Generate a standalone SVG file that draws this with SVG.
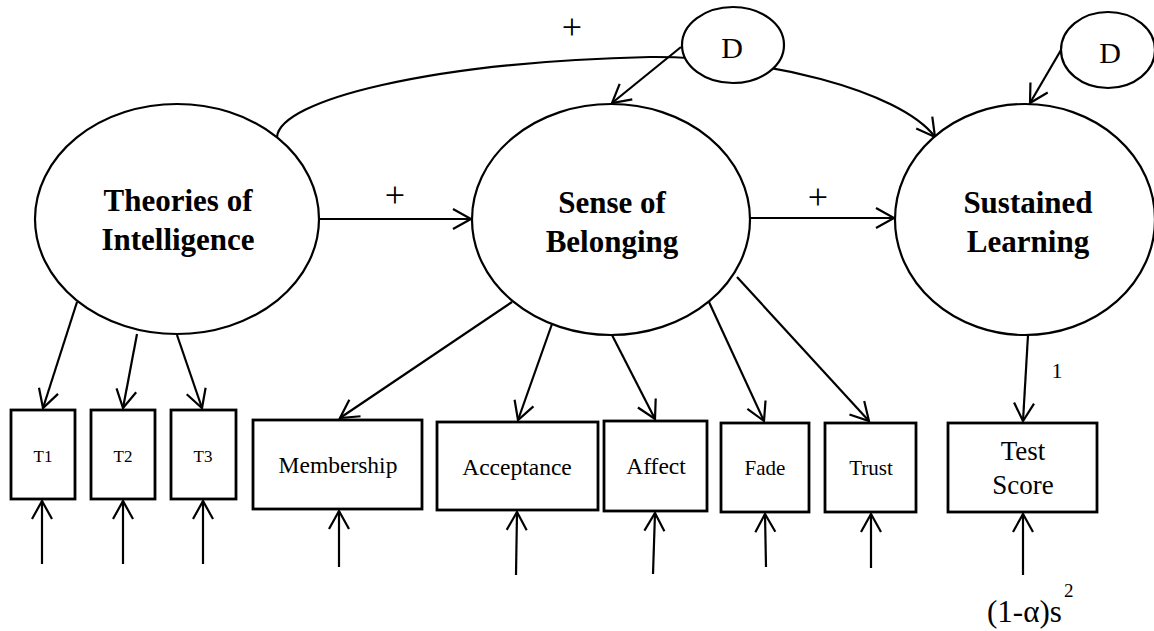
<svg xmlns="http://www.w3.org/2000/svg" width="1154" height="631" viewBox="0 0 1154 631">
<style>
.ell{fill:#fff;stroke:#000;stroke-width:2.2}
.box{fill:#fff;stroke:#000;stroke-width:2.8}
.conn{fill:none;stroke:#000;stroke-width:2.2}
.t{font-family:"Liberation Serif","Times New Roman",serif;fill:#000;text-anchor:middle}
.big{font-size:31px;font-weight:bold}
.mid{font-size:23.5px}
</style>
<defs>
<marker id="ah" viewBox="-22 -13 26 26" markerWidth="26" markerHeight="26" refX="0" refY="0" orient="auto" markerUnits="userSpaceOnUse">
<path d="M-18,-10 L0,0 L-18,10" fill="none" stroke="#000" stroke-width="2.2"/>
</marker>
</defs>
<rect width="1154" height="631" fill="#fff"/>
<g id="connectors" class="conn" marker-end="url(#ah)">
<path d="M277,137 C280,100 430,62 650,57 C760,56 900,90 935,137"/>
<path d="M318,219 L471,219"/>
<path d="M750,218 L894,218"/>
<path d="M681,47 L612,103"/>
<path d="M1061,50 L1030,103"/>
<path d="M77,302 L43,408"/>
<path d="M137,334 L123,408"/>
<path d="M177,335 L202,408"/>
<path d="M512,302 L340,418"/>
<path d="M552,324 L518,420"/>
<path d="M612,335 L655,419"/>
<path d="M709,302 L764,421"/>
<path d="M737,277 L869,421"/>
<path d="M1028,335 L1023,421"/>
<path d="M42,564 L42,501"/>
<path d="M123,564 L123,501"/>
<path d="M203,564 L203,501"/>
<path d="M339,567 L339,511"/>
<path d="M516,575 L517,512"/>
<path d="M653,574 L655,513"/>
<path d="M766,567 L765,514"/>
<path d="M871,568 L871,514"/>
<path d="M1023,575 L1023,514"/>
</g>
<g id="theories"><ellipse class="ell" cx="177" cy="219" rx="142" ry="115"/><text class="t big" x="178" y="211">Theories of</text><text class="t big" x="178" y="250">Intelligence</text></g>
<g id="sense"><ellipse class="ell" cx="611" cy="219.5" rx="139" ry="115.5"/><text class="t big" x="612" y="213">Sense of</text><text class="t big" x="612" y="252">Belonging</text></g>
<g id="sustained"><ellipse class="ell" cx="1025" cy="219.5" rx="130" ry="115.5"/><text class="t big" x="1028" y="213">Sustained</text><text class="t big" x="1028" y="252">Learning</text></g>
<g id="d1"><ellipse class="ell" cx="733" cy="45" rx="51" ry="38"/><text class="t" style="font-size:30px" x="732" y="58">D</text></g>
<g id="d2"><ellipse class="ell" cx="1108" cy="50" rx="47" ry="38"/><text class="t" style="font-size:30px" x="1110" y="63">D</text></g>
<g id="t1"><rect class="box" x="11" y="410" width="64" height="89"/><text class="t" style="font-size:17px" x="43" y="462">T1</text></g>
<g id="t2"><rect class="box" x="91" y="410" width="64" height="89"/><text class="t" style="font-size:17px" x="123" y="462">T2</text></g>
<g id="t3"><rect class="box" x="171" y="410" width="65" height="89"/><text class="t" style="font-size:17px" x="203" y="462">T3</text></g>
<g id="membership"><rect class="box" x="253" y="420" width="169" height="89"/><text class="t mid" x="338" y="473">Membership</text></g>
<g id="acceptance"><rect class="box" x="437" y="422" width="161" height="88"/><text class="t mid" x="517" y="475">Acceptance</text></g>
<g id="affect"><rect class="box" x="604" y="421" width="103" height="90"/><text class="t mid" x="656" y="474">Affect</text></g>
<g id="fade"><rect class="box" x="721" y="423" width="88" height="89"/><text class="t" style="font-size:21px" x="765" y="475">Fade</text></g>
<g id="trust"><rect class="box" x="825" y="423" width="91" height="89"/><text class="t" style="font-size:21px" x="871" y="475">Trust</text></g>
<g id="testscore"><rect class="box" x="948" y="423" width="149" height="89"/><text class="t" style="font-size:27px" x="1023" y="460">Test</text><text class="t" style="font-size:27px" x="1023" y="494">Score</text></g>
<g id="labels">
<text class="t" style="font-size:36px" x="572" y="39">+</text>
<text class="t" style="font-size:36px" x="395" y="207">+</text>
<text class="t" style="font-size:36px" x="818" y="209">+</text>
<text class="t" style="font-size:22px" x="1057" y="378">1</text>
<text class="t" style="font-size:31px;text-anchor:start" x="987" y="622">(1-α)s</text>
<text class="t" style="font-size:19px;text-anchor:start" x="1064" y="597">2</text>
</g>
</svg>
